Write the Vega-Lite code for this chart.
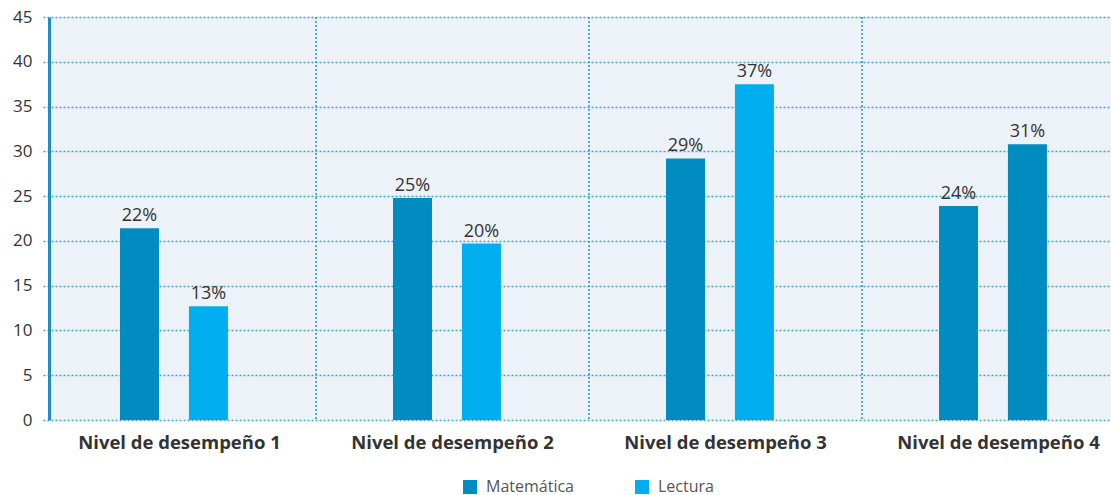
{
  "$schema": "https://vega.github.io/schema/vega-lite/v6.json",
  "width": 1062,
  "height": 403,
  "autosize": {"type": "none"},
  "padding": {"left": 49, "top": 17, "right": 0, "bottom": 75},
  "background": "white",
  "config": {
    "font": "Open Sans",
    "view": {"fill": "#edf2f9", "stroke": null}
  },
  "data": {
    "values": [
      {"nivel": "Nivel de desempeño 1", "serie": "Matemática", "valor": 21.4, "etiqueta": "22%"},
      {"nivel": "Nivel de desempeño 1", "serie": "Lectura", "valor": 12.7, "etiqueta": "13%"},
      {"nivel": "Nivel de desempeño 2", "serie": "Matemática", "valor": 24.8, "etiqueta": "25%"},
      {"nivel": "Nivel de desempeño 2", "serie": "Lectura", "valor": 19.7, "etiqueta": "20%"},
      {"nivel": "Nivel de desempeño 3", "serie": "Matemática", "valor": 29.2, "etiqueta": "29%"},
      {"nivel": "Nivel de desempeño 3", "serie": "Lectura", "valor": 37.5, "etiqueta": "37%"},
      {"nivel": "Nivel de desempeño 4", "serie": "Matemática", "valor": 23.9, "etiqueta": "24%"},
      {"nivel": "Nivel de desempeño 4", "serie": "Lectura", "valor": 30.8, "etiqueta": "31%"}
    ]
  },
  "encoding": {
    "x": {
      "field": "nivel",
      "type": "nominal",
      "sort": null,
      "scale": {"range": [-6, 1086], "paddingInner": 0, "paddingOuter": 0},
      "axis": {
        "title": null,
        "domain": false,
        "ticks": false,
        "grid": false,
        "labelAngle": 0,
        "labelFontSize": 18.5,
        "labelFontWeight": "bold",
        "labelColor": "#333333",
        "labelPadding": 13,
        "labelLimit": 0
      }
    }
  },
  "layer": [
    {
      "mark": {"type": "rule", "clip": true, "strokeDash": [2, 2], "color": "#3aa6d6", "strokeWidth": 1.3},
      "encoding": {
        "x": {"field": "nivel", "type": "nominal", "sort": null, "bandPosition": 0}
      }
    },
    {
      "mark": {"type": "bar", "width": 39},
      "encoding": {
        "xOffset": {
          "field": "serie",
          "type": "nominal",
          "sort": ["Matemática", "Lectura"],
          "scale": {"paddingInner": 0, "paddingOuter": 0.98, "align": 0.459}
        },
        "y": {
          "field": "valor",
          "type": "quantitative",
          "scale": {"domain": [0, 45]},
          "axis": {
            "title": null,
            "values": [0, 5, 10, 15, 20, 25, 30, 35, 40, 45],
            "grid": true,
            "gridDash": [2, 2],
            "gridColor": "#3aa6d6",
            "gridWidth": 1.3,
            "domainColor": "#1a8fc0",
            "domainWidth": 3,
            "ticks": false,
            "labelPadding": 17,
            "labelFontSize": 17,
            "labelColor": "#333333"
          }
        },
        "color": {
          "condition": {"test": "datum.nivel === 'Nivel de desempeño 4'", "value": "#008cc0"},
          "field": "serie",
          "type": "nominal",
          "scale": {"domain": ["Matemática", "Lectura"], "range": ["#008cc0", "#00aeef"]},
          "legend": {
            "title": null,
            "orient": "none",
            "legendX": 413,
            "legendY": 462,
            "direction": "horizontal",
            "symbolType": "square",
            "symbolSize": 196,
            "symbolStrokeWidth": 0,
            "labelFontSize": 16,
            "labelColor": "#555555",
            "columnPadding": 60,
            "labelOffset": 8
          }
        }
      }
    },
    {
      "mark": {"type": "text", "baseline": "bottom", "dy": -3, "fontSize": 18, "color": "#333333"},
      "encoding": {
        "xOffset": {
          "field": "serie",
          "type": "nominal",
          "sort": ["Matemática", "Lectura"]
        },
        "y": {"field": "valor", "type": "quantitative"},
        "text": {"field": "etiqueta"}
      }
    },
    {
      "mark": {"type": "rule", "color": "#1a8fc0", "strokeWidth": 3},
      "encoding": {
        "y": {"datum": 0, "type": "quantitative"}
      }
    }
  ]
}
